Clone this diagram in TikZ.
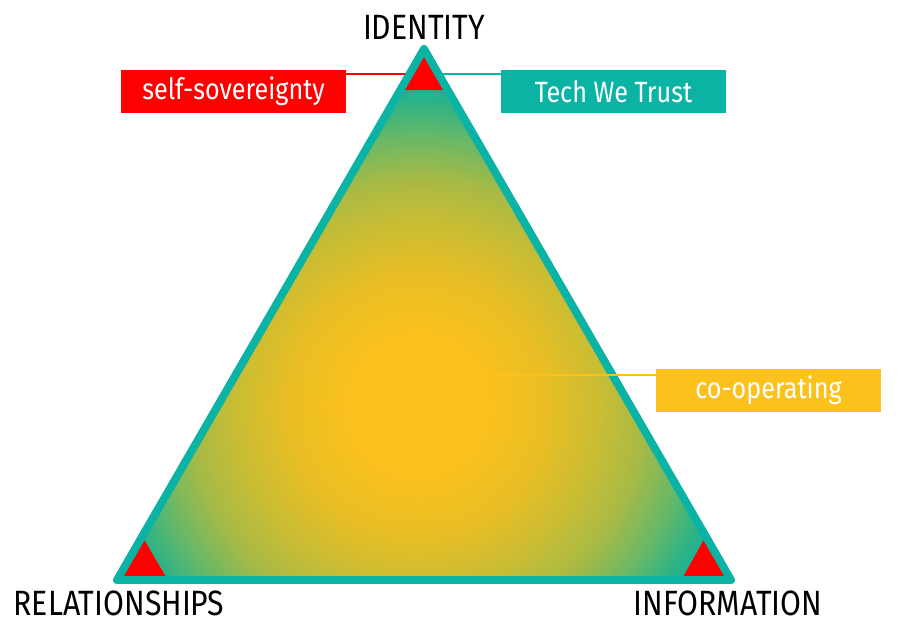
\documentclass[tikz,border=0pt]{standalone}
\usepackage{fontspec}
\setmainfont[FakeStretch=0.86]{Fira Sans}
\usepackage{tikz}
\usetikzlibrary{calc}

\definecolor{cteal}{HTML}{0BB3A4}
\definecolor{cred}{HTML}{FF0000}
\definecolor{cyel}{HTML}{FDC11C}
\definecolor{cgold}{HTML}{E9BE24}
\definecolor{colive}{HTML}{CBBD33}
\definecolor{cmoss}{HTML}{A8BA45}
\definecolor{cgreen}{HTML}{6CB865}
\definecolor{cmint}{HTML}{2FB385}

% colour of the triangle, from the yellow middle to the teal corners
\pgfdeclareradialshading{glow}{\pgfpoint{0bp}{0bp}}{%
  color(0bp)=(cyel); color(4.5bp)=(cyel); color(9.5bp)=(cgold);
  color(13.2bp)=(colive); color(16.6bp)=(cmoss); color(19.6bp)=(cgreen);
  color(22.2bp)=(cmint); color(24.2bp)=(cteal); color(50bp)=(cteal)}

\begin{document}
\begin{tikzpicture}[
			x = 0.03cm, y = -0.03cm,
			corner/.style = {font = \fontsize{30}{34}\selectfont, text = black, inner sep = 0pt},
			tag/.style = {font = \fontsize{25}{29}\selectfont, text = white, inner sep = 0pt,
				minimum width = 6.75cm, minimum height = 1.29cm},
			link/.style = {line width = 1.7pt},
			redcap/.style = {fill = cred}]
			\useasboundingbox (0,0) rectangle (900,640);

			\coordinate (top) at (424,49);
			\coordinate (left) at (117,580);
			\coordinate (right) at (731,580);

			% shaded body
			\begin{scope}
				\clip (top) -- (left) -- (right) -- cycle;
				\shade[shading=glow] (418,405) circle (340);
			\end{scope}

			% red caps in the corners
			\fill[redcap] (424,52) -- (401,90) -- (447,90) -- cycle;
			\fill[redcap] (142,536) -- (119,577) -- (166,577) -- cycle;
			\fill[redcap] (706,536) -- (683,577) -- (729,577) -- cycle;

			% labels
			\node[tag, fill=cred] (sov) at (233.5,91.5) {self-sovereignty};
			\node[tag, fill=cteal] (tech) at (613.5,91.5) {Tech We Trust};
			\node[tag, fill=cyel] (coop) at (768.5,390) {co-operating};

			\coordinate (sovend) at (412,74);
			\coordinate (techend) at (436,74);
			\coordinate (coopend) at (450,375);

			\draw[link, cred] (sov.east |- sovend) -- (sovend);
			\draw[link, cteal] (tech.west |- techend) -- (techend);

			\draw[line width=6.8pt, cteal, line join=round] (top) -- (left) -- (right) -- cycle;

			\draw[link, cyel] (coop.west |- coopend) -- (coopend);

			\node[corner] (identity) at (424,27) {IDENTITY};
			\node[corner] (relations) at (119,603) {RELATIONSHIPS};
			\node[corner] (information) at (728,603) {INFORMATION};

		\end{tikzpicture}
\end{document}
